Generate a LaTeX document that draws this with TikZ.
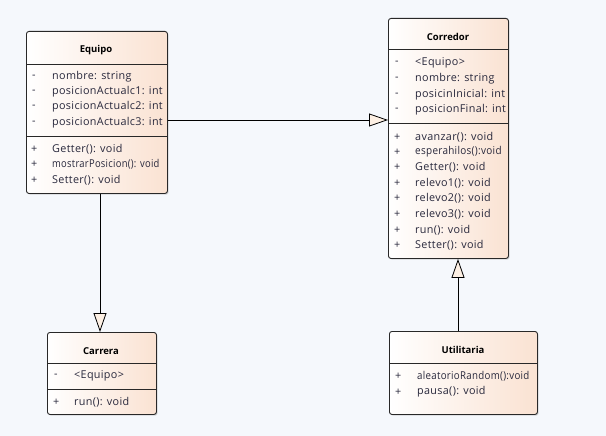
\documentclass[tikz,border=0pt]{standalone}
\usepackage{fontspec}
\setmainfont{Open Sans}[LetterSpace=3]
\newfontfamily\titlefont{Open Sans}
\usetikzlibrary{shadows,arrows.meta}
\definecolor{bg}{RGB}{245,248,252}
\definecolor{peach}{RGB}{250,226,210}
\definecolor{tri}{RGB}{253,240,228}
\definecolor{edge}{RGB}{40,40,40}
\definecolor{txt}{RGB}{40,40,60}
\tikzset{
  umlbox/.style={draw=edge, line width=0.9pt, rounded corners=2.5pt, left color=white, right color=peach,
    shading angle=90, anchor=north west, inner sep=0pt,
    drop shadow={shadow xshift=1.2pt, shadow yshift=-1.2pt, fill=black!25, opacity=0.6}},
  sep/.style={draw=edge, line width=0.9pt},
  title/.style={font=\titlefont\fontsize{9.5}{11}\selectfont\bfseries, text=black},
  row/.style={font=\fontsize{10.8}{12}\selectfont, text=txt, anchor=west, inner sep=0pt},
  conn/.style={draw=black, line width=0.8pt},
  gen/.style={-{Triangle[open, fill=tri, length=19pt, width=13pt]}},
}
\begin{document}
\begin{tikzpicture}[x=1pt,y=-1pt]
\useasboundingbox[fill=bg] (0,0) rectangle (606,436);
% Equipo
\node[umlbox, minimum width=141pt, minimum height=162pt] (eq) at (26,31) {};
\draw[sep] (26,64) -- (167,64);
\draw[sep] (26,136) -- (167,136);
\node[title] (eqt) at (96,50) {Equipo};
\node[row] (eq1a) at (32,77) {-};  \node[row] (eq1) at (52,77) {nombre: string};
\node[row] (eq2a) at (32,92) {-};  \node[row] (eq2) at (52,92) {posicionActualc1: int};
\node[row] (eq3a) at (32,107) {-}; \node[row] (eq3) at (52,107) {posicionActualc2: int};
\node[row] (eq4a) at (32,123) {-}; \node[row] (eq4) at (52,123) {posicionActualc3: int};
\node[row] (eq5a) at (31,149) {+}; \node[row] (eq5) at (52,149) {Getter(): void};
\node[row] (eq6a) at (31,164) {+}; \node[row] (eq6) at (52,164) {\scalebox{0.87}[1]{mostrarPosicion(): void}};
\node[row] (eq7a) at (31,180) {+}; \node[row] (eq7) at (52,180) {Setter(): void};
% Corredor
\node[umlbox, minimum width=120pt, minimum height=240pt] (co) at (388,18) {};
\draw[sep] (388,49) -- (508,49);
\draw[sep] (388,123) -- (508,123);
\node[title] (cot) at (448,37) {Corredor};
\begin{scope}
\clip (388,18) rectangle (507,258);
\node[row] (co1a) at (395,63) {-};  \node[row] (co1) at (415,63) {<Equipo>};
\node[row] (co2a) at (395,79) {-};  \node[row] (co2) at (415,79) {nombre: string};
\node[row] (co3a) at (395,95) {-};  \node[row] (co3) at (415,95) {posicinInicial: int};
\node[row] (co4a) at (395,110) {-}; \node[row] (co4) at (415,110) {posicionFinal: int};
\end{scope}
\node[row] (co5a) at (394,137) {+};  \node[row] (co5) at (415,137) {avanzar(): void};
\node[row] (co6a) at (394,152) {+};  \node[row] (co6) at (415,152) {\scalebox{0.92}[1]{esperahilos():void}};
\node[row] (co7a) at (394,167) {+};  \node[row] (co7) at (415,167) {Getter(): void};
\node[row] (co8a) at (394,183) {+};  \node[row] (co8) at (415,183) {relevo1(): void};
\node[row] (co9a) at (394,198) {+};  \node[row] (co9) at (415,198) {relevo2(): void};
\node[row] (co10a) at (394,214) {+}; \node[row] (co10) at (415,214) {relevo3(): void};
\node[row] (co11a) at (394,230) {+}; \node[row] (co11) at (415,230) {run(): void};
\node[row] (co12a) at (394,245) {+}; \node[row] (co12) at (415,245) {Setter(): void};
% Carrera
\node[umlbox, minimum width=109pt, minimum height=82pt] (ca) at (47,332) {};
\draw[sep] (47,363) -- (156,363);
\draw[sep] (47,389) -- (156,389);
\node[title] (cat) at (101,351) {Carrera};
\node[row] (ca1a) at (54,376) {-}; \node[row] (ca1) at (74,376) {<Equipo>};
\node[row] (ca2a) at (53,402) {+}; \node[row] (ca2) at (74,402) {run(): void};
% Utilitaria
\node[umlbox, minimum width=148pt, minimum height=83pt] (ut) at (389,331) {};
\draw[sep] (389,363) -- (537,363);
\node[title] (utt) at (463,350) {Utilitaria};
\node[row] (ut1a) at (395,376) {+}; \node[row] (ut1) at (417,376) {\scalebox{0.9}[1]{aleatorioRandom():void}};
\node[row] (ut2a) at (395,392) {+}; \node[row] (ut2) at (417,392) {pausa(): void};
% connectors
\draw[conn, gen] (eq.east |- 0,120) -- (co.west |- 0,120);
\draw[conn, gen] (eq.south -| 100,0) -- (ca.north -| 100,0);
\draw[conn, gen] (ut.north -| 458,0) -- (co.south -| 458,0);
\end{tikzpicture}
\end{document}
